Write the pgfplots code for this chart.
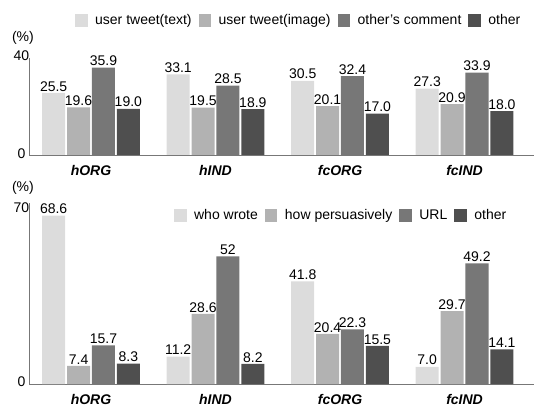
\documentclass[border=0pt]{standalone}
\usepackage{pgfplots}
\pgfplotsset{compat=1.18}
\usepackage{fontspec}
\setmainfont{Liberation Sans}
\definecolor{cA}{HTML}{DCDCDC}
\definecolor{cB}{HTML}{B2B2B2}
\definecolor{cC}{HTML}{777777}
\definecolor{cD}{HTML}{4F4F4F}
\definecolor{axc}{HTML}{777777}
\newcommand{\fs}{\fontsize{14}{16.5}\selectfont}
\pgfplotsset{
  mybars/.style={
    scale only axis,
    width=505pt,
    xmin=-0.498, xmax=3.558,
    ymin=0,
    axis x line=bottom, axis y line=left,
    axis line style={-, axc, line width=0.8pt},
    major tick length=0pt,
    xtick={0,1,2,3},
    xticklabels={hORG,hIND,fcORG,fcIND},
    xticklabel style={font=\fs\bfseries\itshape, yshift=-7pt},
    yticklabel style={font=\fs, anchor=center, xshift=-7.5pt},
    /pgf/number format/assume math mode=true,
    ybar, bar width=0.185,
    point meta=explicit symbolic,
    nodes near coords,
    every node near coord/.append style={font=\fs, inner sep=1.5pt, text=black},
    clip=false,
    legend columns=-1,
    legend style={draw=none, fill=none, inner sep=0pt, font=\fs,
      /tikz/every odd column/.append style={column sep=5.5pt},
      /tikz/every even column/.append style={column sep=5pt}},
    legend image code/.code={\fill[##1, draw=none] (0pt,-6.25pt) rectangle (12.5pt,6.25pt);},
  }
}
\begin{document}
\begin{tikzpicture}
\useasboundingbox (0,0) rectangle (534pt,407pt);
\begin{axis}[mybars, at={(29pt,252pt)}, anchor=south west, height=97.3pt,
  ymax=40, ytick={0,40}, yticklabels={\raisebox{2pt}{0},\raisebox{5pt}{40}},
  legend style={at={(0.091,1.382)}, anchor=west}]
\addplot[fill=cA, draw=none, bar shift=-0.3] coordinates {(0,25.5)[25.5] (1,33.1)[33.1] (2,30.5)[30.5] (3,27.3)[27.3]};
\addplot[fill=cB, draw=none, bar shift=-0.1] coordinates {(0,19.6)[19.6] (1,19.5)[19.5] (2,20.1)[20.1] (3,20.9)[20.9]};
\addplot[fill=cC, draw=none, bar shift=0.1] coordinates {(0,35.9)[35.9] (1,28.5)[28.5] (2,32.4)[32.4] (3,33.9)[33.9]};
\addplot[fill=cD, draw=none, bar shift=0.3] coordinates {(0,19.0)[19.0] (1,18.9)[18.9] (2,17.0)[17.0] (3,18.0)[18.0]};
\legend{user tweet(text), user tweet(image), other's comment, other}
\node[font=\fs] at (rel axis cs:-0.012,1.208) {(\%)};
\end{axis}
\begin{axis}[mybars, at={(29pt,23pt)}, anchor=south west, height=181.5pt,
  ymax=74, ytick={0,70}, yticklabels={\raisebox{4pt}{0},\raisebox{9pt}{70}},
  legend style={at={(0.287,0.928)}, anchor=west}]
\addplot[fill=cA, draw=none, bar shift=-0.3] coordinates {(0,68.6)[68.6] (1,11.2)[11.2] (2,41.8)[41.8] (3,7.0)[7.0]};
\addplot[fill=cB, draw=none, bar shift=-0.1] coordinates {(0,7.4)[7.4] (1,28.6)[28.6] (2,20.4)[20.4] (3,29.7)[29.7]};
\addplot[fill=cC, draw=none, bar shift=0.1] coordinates {(0,15.7)[15.7] (1,52)[52] (2,22.3)[22.3] (3,49.2)[49.2]};
\addplot[fill=cD, draw=none, bar shift=0.3] coordinates {(0,8.3)[8.3] (1,8.2)[8.2] (2,15.5)[15.5] (3,14.1)[14.1]};
\legend{who wrote, how persuasively, URL, other}
\node[font=\fs] at (rel axis cs:-0.012,1.083) {(\%)};
\end{axis}
\end{tikzpicture}
\end{document}
